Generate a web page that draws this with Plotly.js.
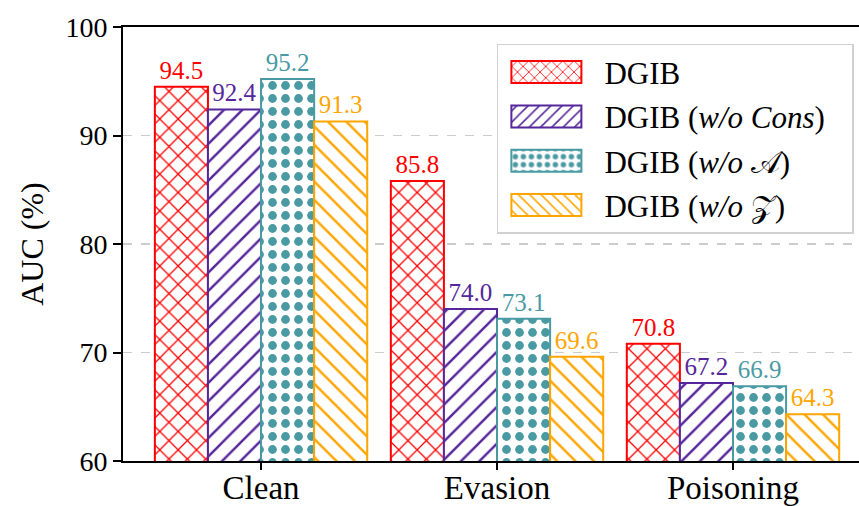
<!DOCTYPE html>
<html>
<head>
<meta charset="utf-8">
<script src="https://cdn.plot.ly/plotly-3.0.1.min.js"></script>
<style>html,body{margin:0;padding:0;background:#fff;overflow:hidden;}</style>
</head>
<body>
<div id="chart" style="width:859px;height:506px;"></div>
<script>
const categories = ["Clean", "Evasion", "Poisoning"];
const seriesNames = ["DGIB", "DGIB (<i>w/o Cons</i>)\u2002\u2009", "DGIB (<i>w/o</i> 𝒜)", "DGIB (<i>w/o</i> 𝒵)"];
const dgib = [94.5, 85.8, 70.8];
const woCons = [92.4, 74.0, 67.2];
const woA = [95.2, 73.1, 66.9];
const woZ = [91.3, 69.6, 64.3];
const yTicks = [60, 70, 80, 90, 100];

const colors = ["#ff0000", "#55279a", "#4a9aa3", "#ffa500"];
const shapes = ["x", "/", ".", "\\"];
const values = [dgib, woCons, woA, woZ];
const FONT = "Liberation Serif, Times New Roman, serif";

const traces = values.map((v, i) => ({
  type: "bar",
  name: seriesNames[i],
  x: categories,
  y: v,
  legendgroup: "g" + i,
  texttemplate: "%{y:.1f}",
  textposition: "outside",
  cliponaxis: false,
  textfont: {family: FONT, size: 25, color: colors[i]},
  marker: {
    color: "#ffffff",
    line: {color: colors[i], width: 2},
    pattern: {shape: shapes[i], fgcolor: colors[i], bgcolor: "#ffffff", fgopacity: 1, fillmode: "overlay",
              size: 13, solidity: i === 2 ? 0.36 : 0.19}
  }
}));

const layout = {
  width: 859, height: 506,
  margin: {l: 123, r: 0, t: 27, b: 45},
  paper_bgcolor: "#ffffff", plot_bgcolor: "#ffffff",
  font: {family: FONT, size: 28, color: "#000"},
  barmode: "group", bargap: 0.1, bargroupgap: 0,
  showlegend: true,
  legend: {
    x: 0.508, y: 0.961, xanchor: "left", yanchor: "top",
    bgcolor: "#ffffff", bordercolor: "#d0d0d0", borderwidth: 1.5,
    font: {family: FONT, size: 31, color: "#000"},
    traceorder: "grouped", tracegroupgap: 1, itemwidth: 96
  },
  xaxis: {
    range: [-0.585, 2.534],
    showline: true, linecolor: "#000", linewidth: 2, mirror: true,
    ticks: "outside", ticklen: 7, tickwidth: 2, tickcolor: "#000",
    tickfont: {family: FONT, size: 33, color: "#000"},
    ticklabelstandoff: -11,
    showgrid: false, zeroline: false
  },
  yaxis: {
    range: [60, 100], tickvals: yTicks,
    showline: true, linecolor: "#000", linewidth: 2, mirror: false,
    ticks: "outside", ticklen: 8, tickwidth: 2, tickcolor: "#000",
    tickfont: {family: FONT, size: 28, color: "#000"},
    showgrid: true, gridcolor: "#cccccc", griddash: "dash", gridwidth: 1.2,
    zeroline: false,
    title: {text: "AUC (%)", font: {family: FONT, size: 32, color: "#000"}, standoff: 12}
  }
};

Plotly.newPlot("chart", traces, layout, {displayModeBar: false, staticPlot: true}).then(function () {
  document.querySelectorAll("#chart .legend .legendpoints path").forEach(function (p) {
    p.setAttribute("d", "M30,11H-40V-11H30Z");
  });
});
</script>
</body>
</html>
